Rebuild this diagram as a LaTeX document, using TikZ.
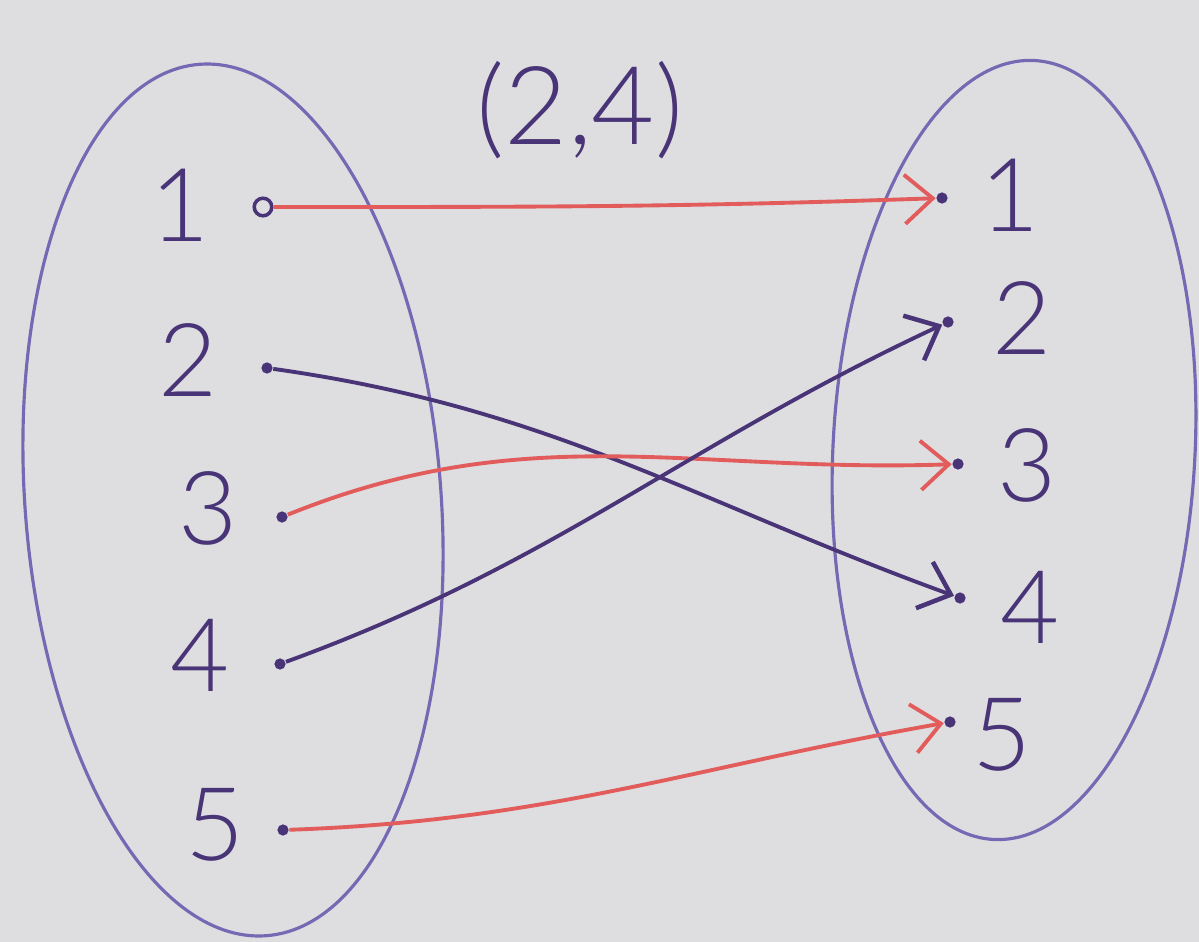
\documentclass[tikz,border=0pt]{standalone}
\usepackage{fontspec}
\setmainfont{Lato}[UprightFont=* Light]
\usetikzlibrary{arrows.meta}
\definecolor{board}{RGB}{222,222,225}
\definecolor{ellc}{RGB}{118,104,178}
\definecolor{redc}{RGB}{226,92,92}
\definecolor{purc}{RGB}{72,52,118}
\tikzset{
  pt/.style={circle,fill=purc,inner sep=0pt,minimum size=3.2pt},
  opt/.style={circle,draw=purc,line width=1pt,inner sep=0pt,minimum size=5pt},
  lbl/.style={text=purc,font=\fontsize{29}{33}\selectfont},
  setell/.style={draw=ellc,line width=0.9pt},
  redarr/.style={draw=redc,line width=1.1pt,-{Straight Barb[length=8pt,width=14pt,line width=1.1pt]}},
  purarr/.style={draw=purc,line width=1.1pt,-{Straight Barb[length=8pt,width=14pt,line width=1.3pt]}}
}
\begin{document}
\begin{tikzpicture}
\fill[board] (0,0) rectangle (11.99,-9.42);
\useasboundingbox (0,0) rectangle (11.99,-9.42);
% sets
\draw[setell,rotate around={4.4:(2.33,-5.00)}] (2.33,-5.00) ellipse (2.08cm and 4.37cm);
\draw[setell,rotate around={-3:(10.14,-4.50)}] (10.14,-4.50) ellipse (1.81cm and 3.90cm);
% title
\node[lbl,font=\fontsize{31}{35}\selectfont] (title) at (5.80,-1.10) {(2,4)};
% left labels
\node[lbl] (l1) at (1.80,-2.05) {1};
\node[lbl] (l2) at (1.88,-3.60) {2};
\node[lbl] (l3) at (2.08,-5.08) {3};
\node[lbl] (l4) at (2.00,-6.55) {4};
\node[lbl] (l5) at (2.15,-8.25) {5};
% left points
\node[opt] (a1) at (2.63,-2.07) {};
\node[pt] (a2) at (2.67,-3.68) {};
\node[pt] (a3) at (2.82,-5.17) {};
\node[pt] (a4) at (2.80,-6.64) {};
\node[pt] (a5) at (2.83,-8.30) {};
% right points
\node[pt] (b1) at (9.42,-1.98) {};
\node[pt] (b2) at (9.48,-3.22) {};
\node[pt] (b3) at (9.58,-4.64) {};
\node[pt] (b4) at (9.60,-5.98) {};
\node[pt] (b5) at (9.50,-7.22) {};
% right labels
\node[lbl] (r1) at (10.10,-1.95) {1};
\node[lbl] (r2) at (10.22,-3.18) {2};
\node[lbl] (r3) at (10.27,-4.65) {3};
\node[lbl] (r4) at (10.30,-6.07) {4};
\node[lbl] (r5) at (10.02,-7.35) {5};
% mapping
\draw[redarr] (a1) to[out=0,in=182] (b1);
\draw[purarr] (a2) to[out=-8,in=160] (b4);
\draw[redarr] (a3) to[out=22,in=182] (b3);
\draw[purarr] (a4) to[out=20,in=205] (b2);
\draw[redarr] (a5) to[out=2,in=190] (b5);
\end{tikzpicture}
\end{document}
